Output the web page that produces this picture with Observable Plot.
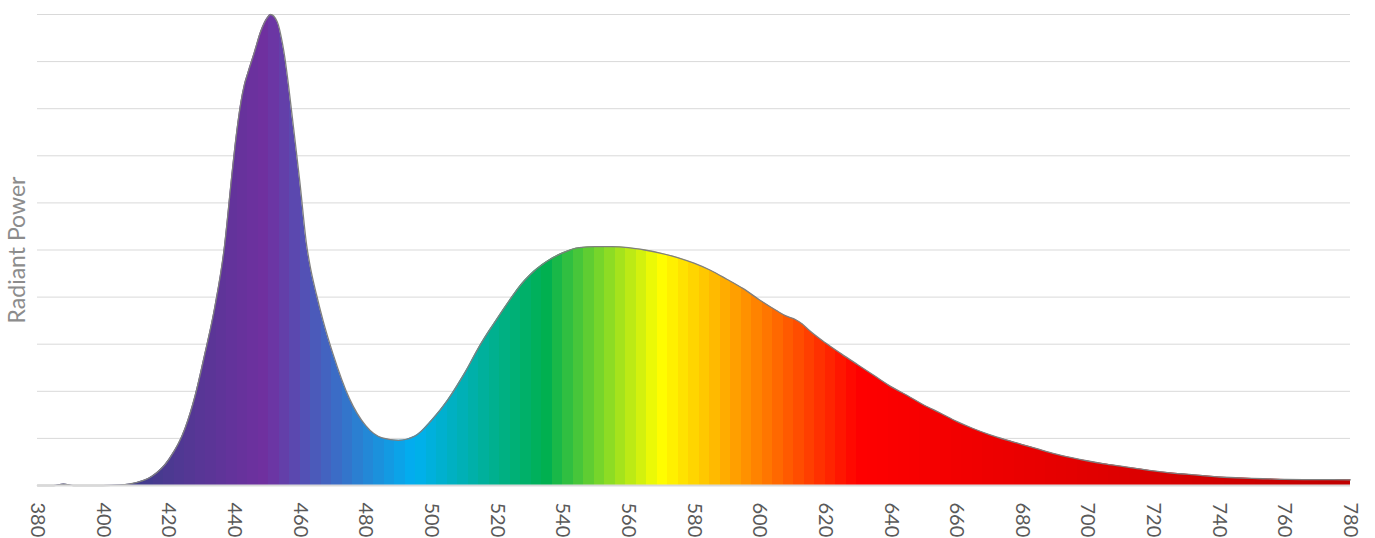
<!DOCTYPE html>
<html><head><meta charset="utf-8">
<script src="https://cdn.jsdelivr.net/npm/d3@7"></script>
<script src="https://cdn.jsdelivr.net/npm/@observablehq/plot@0.6"></script>
<style>html,body{margin:0;padding:0;background:#fff} #chart svg{display:block}</style>
</head><body><div id="chart"></div>
<script>
const wavelengths = [380,385,388,391,395,400,405,410,415,420,425,428,431,434,437,439,440,442,443,444,446,448,450,451,453,455,458,460,462,463,465,467,470,475,480,485,490,495,500,505,510,515,520,525,527,530,535,540,545,550,555,560,565,570,575,580,585,590,595,600,605,608,611,613,615,620,625,630,635,640,645,650,655,660,665,670,675,680,685,690,695,700,705,710,715,720,725,730,735,740,745,750,755,760,770,780];
const power = [0,0,0.003,0,0,0,0.001,0.006,0.02,0.055,0.122,0.19,0.28,0.378,0.51,0.645,0.71,0.815,0.85,0.874,0.918,0.964,0.993,1.0,0.985,0.924,0.76,0.64,0.51,0.468,0.405,0.35,0.28,0.185,0.127,0.101,0.096,0.105,0.138,0.182,0.237,0.3,0.354,0.405,0.424,0.447,0.475,0.494,0.505,0.507,0.507,0.505,0.5,0.493,0.484,0.472,0.457,0.438,0.418,0.394,0.372,0.36,0.352,0.343,0.33,0.303,0.279,0.256,0.233,0.21,0.191,0.171,0.154,0.136,0.121,0.108,0.097,0.087,0.077,0.067,0.059,0.052,0.046,0.041,0.036,0.031,0.027,0.024,0.021,0.018,0.0165,0.015,0.014,0.013,0.0125,0.012];
const xTicks = [380,400,420,440,460,480,500,520,540,560,580,600,620,640,660,680,700,720,740,760,780];
const gridValues = [0.1,0.2,0.3,0.4,0.5,0.6,0.7,0.8,0.9,1.0];
const colorStopWavelengths = [410, 450, 495, 535, 570, 585, 630, 780];
const colorStopColors = ["#403c8c","#7030a0","#00b0f0","#00b050","#ffff00","#ffc000","#ff0000","#c00000"];
const bandWidth = 3.2;

const data = wavelengths.map((w, i) => ({w, p: power[i]}));
const spectral = d3.scaleLinear().domain(colorStopWavelengths).range(colorStopColors)
  .interpolate(d3.interpolateRgb).clamp(true);

function gradientDefs() {
  const defs = d3.create("svg:defs");
  const g = defs.append("linearGradient").attr("id", "spectrum")
    .attr("x1", 0).attr("x2", 1).attr("y1", 0).attr("y2", 0);
  const n = Math.ceil(400 / bandWidth);
  for (let i = 0; i < n; i++) {
    const a = 380 + i * bandWidth, b = Math.min(780, a + bandWidth);
    const c = spectral((a + b) / 2);
    g.append("stop").attr("offset", (a - 380) / 400).attr("stop-color", c);
    g.append("stop").attr("offset", (b - 380) / 400).attr("stop-color", c);
  }
  return defs.node();
}

const chart = Plot.plot({
  width: 1375, height: 538,
  marginLeft: 37, marginRight: 25, marginTop: 14, marginBottom: 53,
  x: {domain: [380, 780], axis: null},
  y: {domain: [0, 1], axis: null},
  style: {fontFamily: "Lato, 'Open Sans', sans-serif", background: "#fff"},
  marks: [
    gradientDefs,
    Plot.gridY(gridValues, {stroke: "#d9d9d9", strokeOpacity: 1, strokeWidth: 1}),
    Plot.areaY(data, {x: "w", y: "p", fill: "url(#spectrum)", curve: "monotone-x"}),
    Plot.lineY(data, {x: "w", y: "p", stroke: "#7f7f7f", strokeWidth: 1.3, curve: "monotone-x"}),
    Plot.ruleY([0], {stroke: "#d9d9d9", strokeWidth: 2}),
    Plot.axisX(xTicks, {tickRotate: 90, tickSize: 0, tickPadding: 17, fontSize: 20, fill: "#595959", label: null}),
    Plot.text(["Radiant Power"], {text: d => d, frameAnchor: "left", dx: -20, rotate: -90,
      fontSize: 23, fill: "#8c8c8c", textAnchor: "middle", lineAnchor: "middle"})
  ]
});
document.getElementById("chart").appendChild(chart);
</script>
</body></html>
